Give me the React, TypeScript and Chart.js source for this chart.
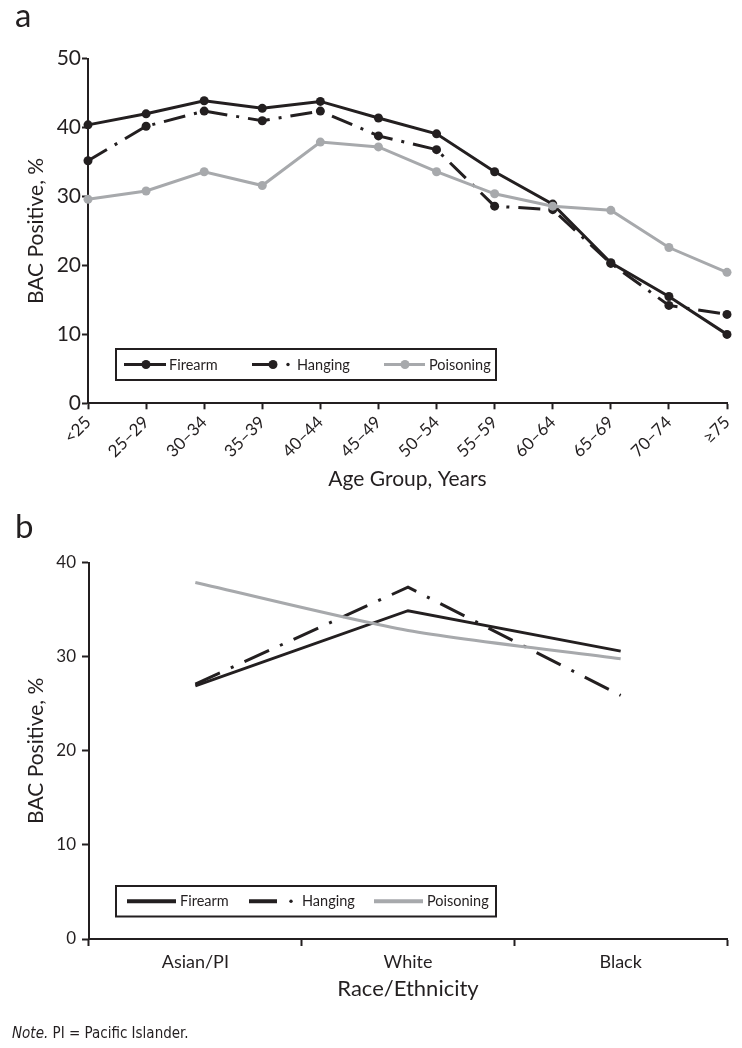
import React, { useEffect, useRef } from 'react';
import { Chart, registerables } from 'chart.js';

Chart.register(...registerables);

// ---------- data ----------
const ageGroups = ['<25', '25–29', '30–34', '35–39', '40–44', '45–49', '50–54', '55–59', '60–64', '65–69', '70–74', '≥75'];
const firearmByAge = [40.4, 42.0, 43.9, 42.8, 43.8, 41.4, 39.1, 33.6, 28.9, 20.4, 15.5, 10.0];
const hangingByAge = [35.2, 40.2, 42.4, 41.0, 42.4, 38.8, 36.8, 28.6, 28.1, 20.3, 14.2, 12.9];
const poisoningByAge = [29.6, 30.8, 33.6, 31.6, 37.9, 37.2, 33.6, 30.4, 28.6, 28.0, 22.6, 19.0];
const ageYTicks = [0, 10, 20, 30, 40, 50];

const raceGroups = ['Asian/PI', 'White', 'Black'];
const firearmByRace = [26.9, 34.9, 30.6];
const hangingByRace = [27.1, 37.4, 25.9];
const poisoningByRace = [37.9, 32.8, 29.8];
const raceYTicks = [0, 10, 20, 30, 40];

const seriesNames = ['Firearm', 'Hanging', 'Poisoning'];

// ---------- styles ----------
const INK = '#231f20';
const GRAY = '#a7a9ac';
const FONT = 'Lato, "Open Sans", sans-serif';
const NARROW = '"Liberation Sans Narrow", "DejaVu Sans Condensed", sans-serif';

const boxLegend = {
  id: 'boxLegend',
  afterDatasetsDraw(chart: any, _args: any, opts: any) {
    const { ctx } = chart;
    const { box, items, font, markerRadius } = opts;
    ctx.save();
    ctx.setLineDash([]);
    ctx.lineWidth = 2;
    ctx.strokeStyle = INK;
    ctx.fillStyle = '#ffffff';
    ctx.fillRect(box.x, box.y, box.w, box.h);
    ctx.strokeRect(box.x, box.y, box.w, box.h);
    const cy = box.y + box.h / 2;
    chart.data.datasets.forEach((ds: any, i: number) => {
      const it = items[i];
      const color = ds.borderColor;
      ctx.strokeStyle = color;
      ctx.fillStyle = color;
      ctx.lineWidth = it.lineWidth;
      ctx.lineCap = 'butt';
      ctx.beginPath();
      ctx.moveTo(it.x1, cy);
      ctx.lineTo(it.x2, cy);
      ctx.stroke();
      if (it.marker != null) {
        ctx.beginPath();
        ctx.arc(it.marker, cy, markerRadius, 0, Math.PI * 2);
        ctx.fill();
      }
      if (it.dot != null) {
        ctx.beginPath();
        ctx.arc(it.dot, cy, 1.7, 0, Math.PI * 2);
        ctx.fill();
      }
      ctx.fillStyle = INK;
      ctx.font = font;
      ctx.textAlign = 'left';
      ctx.textBaseline = 'middle';
      ctx.fillText(ds.label, it.text, cy + 0.5);
    });
    ctx.restore();
  },
};

const panelText = {
  id: 'panelText',
  afterDraw(chart: any, _args: any, opts: any) {
    const { ctx } = chart;
    ctx.save();
    ctx.fillStyle = INK;
    ctx.textBaseline = 'alphabetic';
    ctx.textAlign = 'left';
    (opts.items || []).forEach((t: any) => {
      let x = t.x;
      t.parts.forEach((p: any) => {
        ctx.font = p.font;
        ctx.fillText(p.text, x, t.y);
        x += ctx.measureText(p.text).width;
      });
    });
    ctx.restore();
  },
};

function zeroPad(s: any) {
  s.paddingLeft = 0;
  s.paddingRight = 0;
  s.paddingTop = 0;
  s.paddingBottom = 0;
}

export default function App() {
  const refA = useRef<HTMLCanvasElement | null>(null);
  const refB = useRef<HTMLCanvasElement | null>(null);

  useEffect(() => {
    const lineDs = (label: string, data: number[], color: string, extra: any) => ({
      label,
      data,
      borderColor: color,
      backgroundColor: color,
      borderWidth: 3,
      pointRadius: 4.5,
      pointHoverRadius: 4.5,
      pointBackgroundColor: color,
      pointBorderWidth: 0,
      tension: 0,
      clip: false,
      ...extra,
    });

    const chartA = new Chart(refA.current as HTMLCanvasElement, {
      type: 'line',
      data: {
        labels: ageGroups,
        datasets: [
          lineDs(seriesNames[0], firearmByAge, INK, { order: 1 }),
          lineDs(seriesNames[1], hangingByAge, INK, { order: 2, borderDash: [22, 9, 3, 9] }),
          lineDs(seriesNames[2], poisoningByAge, GRAY, { order: 0 }),
        ],
      },
      options: {
        responsive: false,
        animation: false,
        devicePixelRatio: 1,
        events: [],
        layout: { padding: { top: 58.7, left: 0, right: 15, bottom: 0 } },
        plugins: {
          legend: { display: false },
          tooltip: { enabled: false },
          boxLegend: {
            box: { x: 116, y: 349, w: 380, h: 31 },
            font: `14.5px ${FONT}`,
            markerRadius: 4.5,
            items: [
              { x1: 124, x2: 166, marker: 146, text: 169, lineWidth: 3 },
              { x1: 252, x2: 273, marker: 273, dot: 288, text: 297, lineWidth: 3 },
              { x1: 384, x2: 425, marker: 405, text: 429, lineWidth: 3 },
            ],
          },
          panelText: {
            items: [{ x: 15, y: 27, parts: [{ text: 'a', font: `33px ${FONT}` }] }],
          },
        } as any,
        scales: {
          x: {
            type: 'category',
            offset: false,
            ticks: {
              autoSkip: false,
              maxRotation: 45,
              minRotation: 45,
              padding: 3,
              color: INK,
              font: { family: FONT, size: 17 },
            },
            grid: {
              drawOnChartArea: false,
              drawTicks: true,
              tickLength: 6,
              tickWidth: 2,
              tickColor: INK,
            },
            border: { color: INK, width: 2 },
            title: {
              display: true,
              text: 'Age Group, Years',
              color: INK,
              font: { family: FONT, size: 21 },
              padding: { top: 0, bottom: 8.4 },
            },
            afterFit: (s: any) => {
              s.height = 96.7;
              zeroPad(s);
            },
          },
          y: {
            min: 0,
            max: 50,
            afterBuildTicks: (s: any) => {
              s.ticks = ageYTicks.map((v) => ({ value: v }));
            },
            ticks: {
              padding: 1,
              color: INK,
              font: { family: FONT, size: 21 },
            },
            grid: {
              drawOnChartArea: false,
              drawTicks: true,
              tickLength: 6,
              tickWidth: 2,
              tickColor: INK,
            },
            border: { color: INK, width: 2 },
            title: {
              display: true,
              text: 'BAC Positive, %',
              color: INK,
              font: { family: FONT, size: 21 },
              padding: { top: 23.4, bottom: 0 },
            },
            afterFit: (s: any) => {
              s.width = 88;
              zeroPad(s);
            },
          },
        },
      },
      plugins: [boxLegend, panelText],
    } as any);

    const flatDs = (label: string, data: number[], color: string, extra: any) => ({
      label,
      data,
      borderColor: color,
      backgroundColor: color,
      borderWidth: 3,
      pointRadius: 0,
      pointHoverRadius: 0,
      tension: 0,
      clip: false,
      ...extra,
    });

    const chartB = new Chart(refB.current as HTMLCanvasElement, {
      type: 'line',
      data: {
        labels: raceGroups,
        datasets: [
          flatDs(seriesNames[0], firearmByRace, INK, { order: 1 }),
          flatDs(seriesNames[1], hangingByRace, INK, { order: 2, borderDash: [27, 12, 3, 12] }),
          flatDs(seriesNames[2], poisoningByRace, GRAY, { order: 0, tension: 0.25 }),
        ],
      },
      options: {
        responsive: false,
        animation: false,
        devicePixelRatio: 1,
        events: [],
        layout: { padding: { top: 62.7, left: 0, right: 15, bottom: 0 } },
        plugins: {
          legend: { display: false },
          tooltip: { enabled: false },
          boxLegend: {
            box: { x: 116, y: 386, w: 380, h: 30.5 },
            font: `14.5px ${FONT}`,
            markerRadius: 0,
            items: [
              { x1: 127, x2: 176, text: 180, lineWidth: 4 },
              { x1: 249, x2: 277, dot: 291, text: 302, lineWidth: 4 },
              { x1: 374, x2: 423, text: 427, lineWidth: 4 },
            ],
          },
          panelText: {
            items: [
              { x: 15, y: 38, parts: [{ text: 'b', font: `33px ${FONT}` }] },
              {
                x: 12,
                y: 538,
                parts: [
                  { text: 'Note.', font: `italic 15px ${NARROW}` },
                  { text: ' PI = Pacific Islander.', font: `15px ${NARROW}` },
                ],
              },
            ],
          },
        } as any,
        scales: {
          x: {
            type: 'category',
            offset: true,
            ticks: {
              autoSkip: false,
              maxRotation: 0,
              minRotation: 0,
              padding: 5,
              color: INK,
              font: { family: FONT, size: 18 },
            },
            grid: {
              offset: true,
              drawOnChartArea: false,
              drawTicks: true,
              tickLength: 7,
              tickWidth: 2,
              tickColor: INK,
            },
            border: { color: INK, width: 2 },
            title: {
              display: true,
              text: 'Race/Ethnicity',
              color: INK,
              font: { family: FONT, size: 22 },
              padding: { top: 0, bottom: 45.8 },
            },
            afterFit: (s: any) => {
              s.height = 109;
              zeroPad(s);
            },
          },
          y: {
            min: 0,
            max: 40,
            afterBuildTicks: (s: any) => {
              s.ticks = raceYTicks.map((v) => ({ value: v }));
            },
            ticks: {
              padding: 6,
              color: INK,
              font: { family: FONT, size: 17 },
            },
            grid: {
              drawOnChartArea: false,
              drawTicks: true,
              tickLength: 7,
              tickWidth: 2,
              tickColor: INK,
            },
            border: { color: INK, width: 2 },
            title: {
              display: true,
              text: 'BAC Positive, %',
              color: INK,
              font: { family: FONT, size: 21 },
              padding: { top: 24, bottom: 0 },
            },
            afterFit: (s: any) => {
              s.width = 89;
              zeroPad(s);
            },
          },
        },
      },
      plugins: [boxLegend, panelText],
    } as any);

    return () => {
      chartA.destroy();
      chartB.destroy();
    };
  }, []);

  return (
    <div style={{ position: 'absolute', left: 0, top: 0, width: 742, height: 1048, background: '#fff' }}>
      <canvas ref={refA} width={742} height={500} style={{ position: 'absolute', left: 0, top: 0 }} />
      <canvas ref={refB} width={742} height={548} style={{ position: 'absolute', left: 0, top: 500 }} />
    </div>
  );
}
